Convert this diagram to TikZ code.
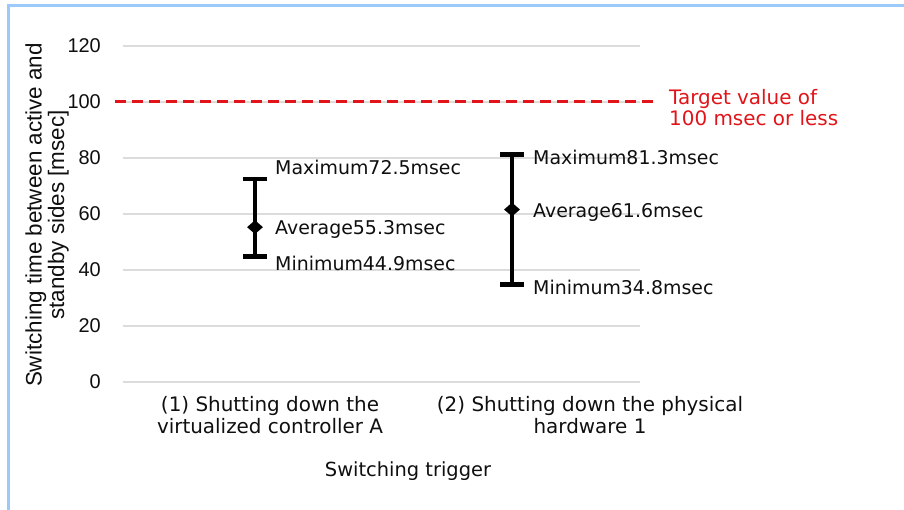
\documentclass[tikz,border=0pt]{standalone}
\usepackage{fontspec}
\setmainfont{DejaVu Sans}
\newfontfamily\arialfont{Liberation Sans}
\usetikzlibrary{shapes.geometric}

\definecolor{framecol}{RGB}{155,202,250}
\definecolor{gridcol}{RGB}{220,220,220}
\definecolor{targetred}{RGB}{225,20,25}
\definecolor{inkcol}{RGB}{15,15,15}

\tikzset{
  frameline/.style={draw=framecol, line width=3bp},
  gridline/.style={draw=gridcol, line width=1.3bp},
  targetline/.style={draw=targetred, line width=3bp, dash pattern=on 11bp off 6bp},
  ticklabel/.style={anchor=east, inner sep=0pt, text=inkcol, font=\arialfont\fontsize{20}{24}\selectfont},
  valuelabel/.style={anchor=west, inner sep=0pt, text=inkcol, font=\fontsize{19}{22}\selectfont},
  catlabel/.style={align=center, inner sep=0pt, text=inkcol, font=\fontsize{20}{22}\selectfont},
  axistitle/.style={align=center, inner sep=0pt, text=inkcol, font=\arialfont\fontsize{22.5}{22.5}\selectfont},
  errbar/.style={draw=black, line width=4bp},
  errcap/.style={draw=black, line width=4.5bp},
  avgmark/.style={diamond, fill=black, inner sep=0pt, minimum width=16bp, minimum height=14bp},
}

\begin{document}
\begin{tikzpicture}[x=1bp, y=-1bp]
\useasboundingbox (0,0) rectangle (904,510);
\fill[white] (0,0) rectangle (904,510);

% outer frame (top and left edges)
\draw[frameline] (8,510) -- (8,6) -- (904,6);

% horizontal grid lines and value axis labels
\foreach \v in {0,20,...,120} {
  \coordinate (gl\v) at (123,{382-2.8*\v});
  \coordinate (gr\v) at (640,{382-2.8*\v});
  \draw[gridline] (gl\v) -- (gr\v);
  \node[ticklabel] (t\v) at (101,{382-2.8*\v}) {\v};
}

% target threshold at 100 msec
\coordinate (tgtL) at (115,102);
\coordinate (tgtR) at (656,102);
\draw[targetline] (tgtL) -- (tgtR);
\node[anchor=west, align=left, inner sep=0pt, text=targetred,
      font=\fontsize{20}{21}\selectfont] (tgt) at (669,108)
  {Target value of\\100 msec or less};

% case (1): virtualized controller A
\coordinate (max1) at (255,{382-2.8*72.5});
\coordinate (min1) at (255,{382-2.8*44.9});
\draw[errbar] (max1) -- (min1);
\draw[errcap] ([xshift=-12bp]max1) -- ([xshift=12bp]max1);
\draw[errcap] ([xshift=-12bp]min1) -- ([xshift=12bp]min1);
\node[avgmark] (avg1) at (255,{382-2.8*55.3}) {};
\node[valuelabel] (lmax1) at (275,167) {Maximum72.5msec};
\node[valuelabel] (lavg1) at (275,229) {Average55.3msec};
\node[valuelabel] (lmin1) at (275,263) {Minimum44.9msec};

% case (2): physical hardware 1
\coordinate (max2) at (512,{382-2.8*81.3});
\coordinate (min2) at (512,{382-2.8*34.8});
\draw[errbar] (max2) -- (min2);
\draw[errcap] ([xshift=-12bp]max2) -- ([xshift=12bp]max2);
\draw[errcap] ([xshift=-12bp]min2) -- ([xshift=12bp]min2);
\node[avgmark] (avg2) at (512,{382-2.8*61.6}) {};
\node[valuelabel] (lmax2) at (533,157) {Maximum81.3msec};
\node[valuelabel] (lavg2) at (533,212) {Average61.6msec};
\node[valuelabel] (lmin2) at (533,287) {Minimum34.8msec};

% category labels
\node[catlabel] (cat1) at (270,415) {(1) Shutting down the\\virtualized controller A};
\node[catlabel] (cat2) at (590,415) {(2) Shutting down the physical\\hardware 1};

% axis titles
\node[catlabel, font=\fontsize{19.5}{22}\selectfont] (xtitle) at (408,471) {Switching trigger};
\node[axistitle, rotate=90] (ytitle) at (47,215)
  {Switching time between active and\\standby sides [msec]};
\end{tikzpicture}
\end{document}
